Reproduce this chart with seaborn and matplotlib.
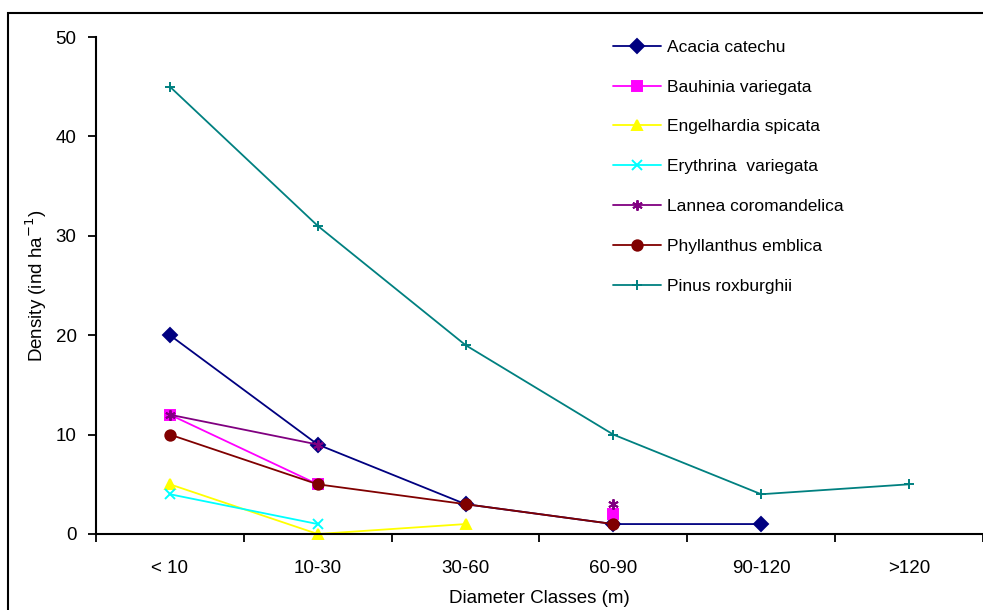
import numpy as np
import pandas as pd
import matplotlib
matplotlib.use("Agg")
import matplotlib.pyplot as plt
import seaborn as sns
from matplotlib.patches import Rectangle

classes = ["< 10", "10-30", "30-60", "60-90", "90-120", ">120"]

acacia = [20, 9, 3, 1, 1, np.nan]
bauhinia = [12, 5, np.nan, 2, np.nan, np.nan]
engelhardia = [5, 0, 1, np.nan, np.nan, np.nan]
erythrina = [4, 1, np.nan, np.nan, np.nan, np.nan]
lannea = [12, 9, np.nan, 3, np.nan, np.nan]
phyllanthus = [10, 5, 3, 1, np.nan, np.nan]
pinus = [45, 31, 19, 10, 4, 5]

species = ["Acacia catechu", "Bauhinia variegata", "Engelhardia spicata",
           "Erythrina  variegata", "Lannea coromandelica", "Phyllanthus emblica",
           "Pinus roxburghii"]
series = [acacia, bauhinia, engelhardia, erythrina, lannea, phyllanthus, pinus]

colors = ["#000080", "#FF00FF", "#FFFF00", "#00FFFF", "#800080", "#800000", "#008080"]
markers = ["D", "s", "^", "x", (6, 2, 0), "o", "+"]

# long table, split into unbroken runs so gaps stay gaps
rows = []
for name, vals in zip(species, series):
    seg = 0
    prev_ok = False
    for i, v in enumerate(vals):
        if np.isnan(v):
            if prev_ok:
                seg += 1
            prev_ok = False
            continue
        rows.append({"species": name, "x": i, "density": v, "seg": seg})
        prev_ok = True
df = pd.DataFrame(rows)

sns.set_style("white")
plt.rcParams["font.family"] = ["Liberation Sans", "DejaVu Sans"]
plt.rcParams["text.color"] = "black"
plt.rcParams["axes.labelcolor"] = "black"
plt.rcParams["xtick.color"] = "black"
plt.rcParams["ytick.color"] = "black"

fig = plt.figure(figsize=(9.83, 6.10), dpi=100)
ax = fig.add_axes([96 / 983, 1 - 534 / 610, 1 - 96 / 983, (534 - 37) / 610])

for name, col, mk in zip(species, colors, markers):
    sub = df[df["species"] == name]
    sns.lineplot(data=sub, x="x", y="density", units="seg", estimator=None,
                 color=col, marker=mk, markersize=7.5, markeredgewidth=1.4,
                 markeredgecolor=col, linewidth=1.3, label=name, ax=ax)

for line in ax.lines:
    line.set_clip_on(False)

ax.set_xlim(-0.5, 5.5)
ax.set_ylim(0, 50)
ax.set_yticks([0, 10, 20, 30, 40, 50])
ax.set_xticks(range(len(classes)))
ax.set_xticklabels(classes)
ax.set_xticks(np.arange(-0.5, 5.6, 1), minor=True)
ax.tick_params(axis="x", which="major", length=0, pad=19, labelsize=13.5)
ax.tick_params(axis="x", which="minor", length=6, width=1.3, direction="out", bottom=True)
ax.tick_params(axis="y", length=6, width=1.3, direction="out", labelsize=13.5, pad=8, left=True)

sns.despine(ax=ax, right=True, top=True)
for s in ["left", "bottom"]:
    ax.spines[s].set_color("black")
    ax.spines[s].set_linewidth(1.5)

ax.set_xlabel("Diameter Classes (m)", fontsize=13.5, labelpad=9)
ax.set_ylabel("Density (ind ha$^{-1}$)", fontsize=13.5, labelpad=5)

handles, labels = ax.get_legend_handles_labels()
uniq = dict(zip(labels, handles))
ax.legend([uniq[s] for s in species], species, loc="upper left",
          bbox_to_anchor=(0.565, 1.026), frameon=False, fontsize=12.5,
          handlelength=2.8, labelspacing=1.42, handletextpad=0.35)

fig.patches.append(Rectangle((8 / 983, -0.1), 1.2, (610 - 13) / 610 + 0.1,
                             transform=fig.transFigure, fill=False,
                             edgecolor="black", linewidth=1.5, zorder=-1))

fig.savefig("out.png", dpi=100)
